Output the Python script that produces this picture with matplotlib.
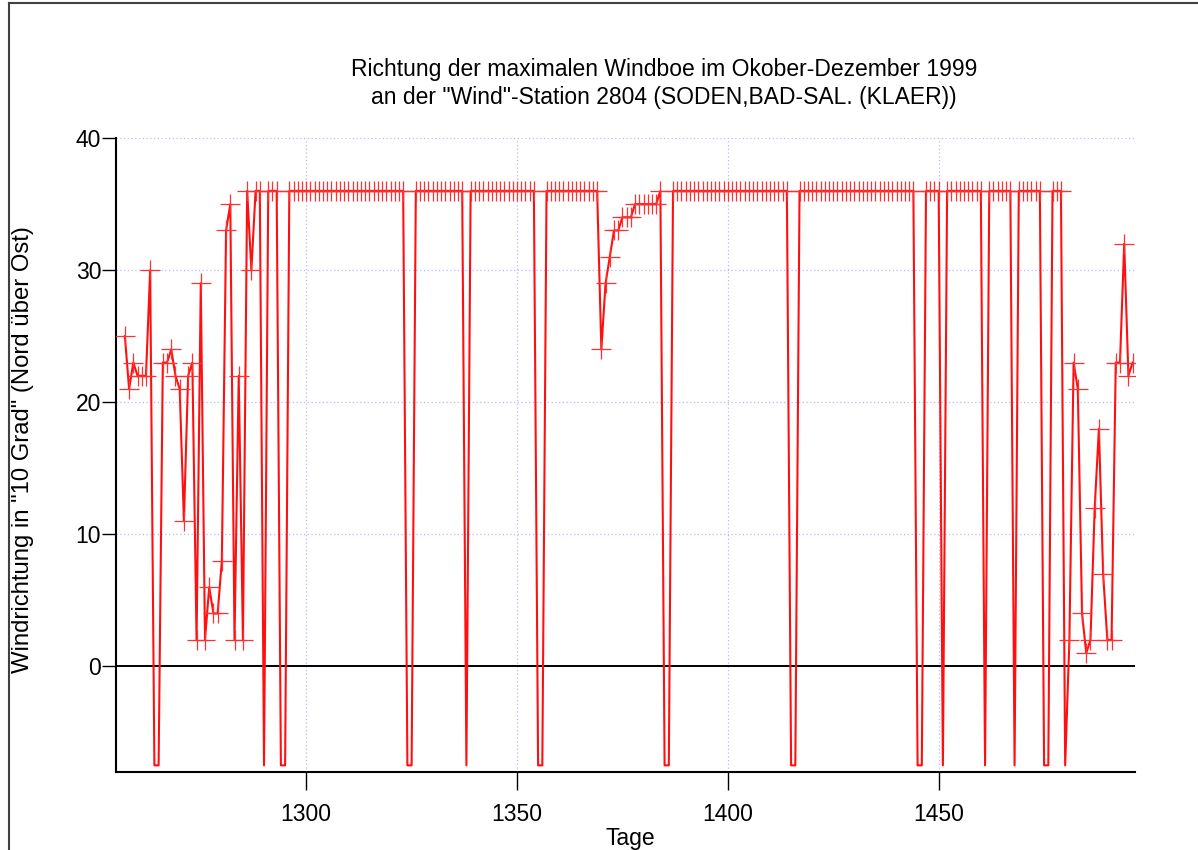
import numpy as np
import matplotlib
matplotlib.use("Agg")
import matplotlib.pyplot as plt
from matplotlib.lines import Line2D

plt.rcParams['font.family'] = ['Liberation Sans', 'DejaVu Sans']

# missing gusts are plotted at this value (below zero, no marker)
MISS = -7.5
first_day = 1257

# direction of max gust, in units of 10 degrees, one value per day from day 1257
richtung = [
    25, 21, 23, 22, 22, 22, 30, MISS, MISS, 23,            # 1257-1266
    23, 24, 22, 21, 11, 22, 23, 2, 29, 2,                  # 1267-1276
    6, 4, 4, 8, 33, 35, 2, 22, 2, 36,                      # 1277-1286
    30, 36, 36, MISS, 36, 36, 36, MISS, MISS, 36,          # 1287-1296
    36, 36, 36, 36, 36, 36, 36, 36, 36, 36,                # 1297-1306
    36, 36, 36, 36, 36, 36, 36, 36, 36, 36,                # 1307-1316
    36, 36, 36, 36, 36, 36, 36, MISS, MISS, 36,            # 1317-1326
    36, 36, 36, 36, 36, 36, 36, 36, 36, 36,                # 1327-1336
    36, MISS, 36, 36, 36, 36, 36, 36, 36, 36,              # 1337-1346
    36, 36, 36, 36, 36, 36, 36, 36, MISS, MISS,            # 1347-1356
    36, 36, 36, 36, 36, 36, 36, 36, 36, 36,                # 1357-1366
    36, 36, 36, 24, 29, 31, 33, 33, 34, 34,                # 1367-1376
    34, 35, 35, 35, 35, 35, 35, 36, MISS, MISS,            # 1377-1386
    36, 36, 36, 36, 36, 36, 36, 36, 36, 36,                # 1387-1396
    36, 36, 36, 36, 36, 36, 36, 36, 36, 36,                # 1397-1406
    36, 36, 36, 36, 36, 36, 36, 36, MISS, MISS,            # 1407-1416
    36, 36, 36, 36, 36, 36, 36, 36, 36, 36,                # 1417-1426
    36, 36, 36, 36, 36, 36, 36, 36, 36, 36,                # 1427-1436
    36, 36, 36, 36, 36, 36, 36, 36, MISS, MISS,            # 1437-1446
    36, 36, 36, 36, MISS, 36, 36, 36, 36, 36,              # 1447-1456
    36, 36, 36, 36, MISS, 36, 36, 36, 36, 36,              # 1457-1466
    36, MISS, 36, 36, 36, 36, 36, 36, MISS, MISS,          # 1467-1476
    36, 36, 36, MISS, 2, 23, 21, 4, 1, 2,                  # 1477-1486
    12, 18, 7, 2, 2, 23, 23, 32, 22, 23,                   # 1487-1496
]

xticks = [1300, 1350, 1400, 1450]
yticks = [0, 10, 20, 30, 40]

titel = ('Richtung der maximalen Windboe im Okober-Dezember 1999\n'
         'an der "Wind"-Station 2804 (SODEN,BAD-SAL. (KLAER))')

tage = np.arange(first_day, first_day + len(richtung))
werte = np.array(richtung, dtype=float)
ok = werte > MISS

fig = plt.figure(figsize=(11.98, 8.5), dpi=100)
ax = fig.add_axes([0.0972, 0.0918, 0.85, 0.7458])

ax.plot(tage, werte, color='#ff1010', lw=1.5, zorder=3)
ax.plot(tage[ok], werte[ok], ls='none', marker='+', ms=15, mew=0.9,
        color='#ff3030', zorder=3)

ax.axhline(0, color='black', lw=1.4, zorder=2)
for y in yticks[1:]:
    ax.axhline(y, color='#b8b8ff', lw=0.9, ls=(0, (1, 2)), zorder=1)
for x in xticks:
    ax.axvline(x, color='#b8b8ff', lw=0.9, ls=(0, (1, 2)), zorder=1)

ax.set_xlim(1255, 1496.5)
ax.set_ylim(-8, 40)
ax.set_xticks(xticks)
ax.set_yticks(yticks)

for s in ['top', 'right']:
    ax.spines[s].set_visible(False)
for s in ['left', 'bottom']:
    ax.spines[s].set_linewidth(1.5)
ax.tick_params(axis='x', length=13, width=1.0, pad=9, labelsize=16.5)
ax.tick_params(axis='y', length=10, width=1.0, pad=1, labelsize=16.5)

fig.text(0.554, 0.902, titel, ha='center', va='center', fontsize=16.5,
         linespacing=1.25)
fig.text(0.019, 0.4715, 'Windrichtung in "10 Grad" (Nord über Ost)',
         rotation=90, ha='center', va='center', fontsize=17.2)
fig.text(0.526, 0.013, 'Tage', ha='center', va='center', fontsize=16.5)

# border of the surrounding window (cropped screenshot)
fig.add_artist(Line2D([0.0075, 0.0075], [0, 0.996], transform=fig.transFigure,
                      color='#404040', lw=1.5))
fig.add_artist(Line2D([0.0075, 1.0], [0.996, 0.996], transform=fig.transFigure,
                      color='#404040', lw=1.5))

fig.savefig('out.png', dpi=100)
